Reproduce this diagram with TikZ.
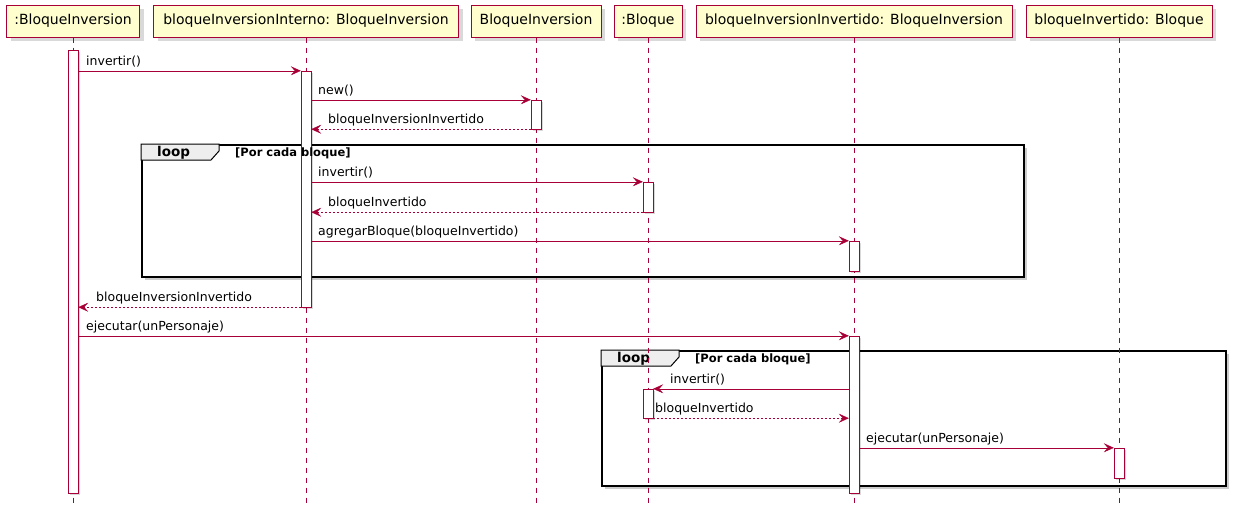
\documentclass[tikz,border=0pt]{standalone}
\usepackage{fontspec}
\setmainfont{DejaVu Sans}
\usepackage{tikz}
\usetikzlibrary{
    arrows.meta,
    shadows,
    positioning
}
\definecolor{umlred}{HTML}{A80036}
\definecolor{umlfill}{HTML}{FEFECE}
\definecolor{tabgray}{HTML}{EEEEEE}

\begin{document}
\begin{tikzpicture}[x=1pt, y=-1pt,
    part/.style={draw=umlred, fill=umlfill, line width=1pt, minimum height=32, inner sep=0,
        font=\fontsize{14}{16}\selectfont,
        drop shadow={shadow xshift=4pt, shadow yshift=-4pt, fill=black, opacity=.15}},
    life/.style={draw=umlred, dash pattern=on 5pt off 5pt},
    act/.style={draw=umlred, fill=white, minimum width=10, inner sep=0,
        drop shadow={shadow xshift=2pt, shadow yshift=-2pt, fill=black, opacity=.15}},
    frame/.style={draw=black, fill=white, line width=2pt, inner sep=0,
        drop shadow={shadow xshift=3pt, shadow yshift=-3pt, fill=black, opacity=.2}},
    tab/.style={draw=black, fill=tabgray, line width=1pt},
    msg/.style={draw=umlred, -{Stealth[length=10pt, width=9pt, inset=4pt]}},
    ret/.style={msg, dash pattern=on 2pt off 2pt},
    lbl/.style={anchor=base west, inner sep=0, font=\fontsize{12.5}{14}\selectfont},
    looplbl/.style={anchor=base west, inner sep=0, font=\bfseries\fontsize{13.5}{15}\selectfont},
    guard/.style={anchor=base west, inner sep=0, font=\bfseries\fontsize{11.5}{13}\selectfont}]
                        \useasboundingbox (0,0) rectangle (1237,509);

                        % participants
                        \node[part, minimum width=133] (p1) at (73,21) {:BloqueInversion};
                        \node[part, minimum width=305] (p2) at (306,21) {bloqueInversionInterno: BloqueInversion};
                        \node[part, minimum width=130] (p3) at (536,21) {BloqueInversion};
                        \node[part, minimum width=68] (p4) at (648,21) {:Bloque};
                        \node[part, minimum width=316] (p5) at (854,21) {bloqueInversionInvertido: BloqueInversion};
                        \node[part, minimum width=186] (p6) at (1119,21) {bloqueInvertido: Bloque};

                        % loop frames
                        \node[frame, minimum width=882, minimum height=132] (loop1) at (583,211) {};
                        \draw[tab] (loop1.north west) -- ++(78,0) -- ++(0,7) -- ++(-8,9) -- ++(-70,0) -- cycle;
                        \node[looplbl] (k1) at (157,156) {loop};

                        \node[frame, minimum width=624, minimum height=135] (loop2) at (914,418.5) {};
                        \draw[tab] (loop2.north west) -- ++(78,0) -- ++(0,7) -- ++(-8,9) -- ++(-70,0) -- cycle;
                        \node[looplbl] (k2) at (617,362) {loop};

                        % lifelines
                        \foreach \p in {p1,p2,p3,p4,p5,p6}
                            \draw[life] (\p.south) -- ++(0,466);

                        % activations
                        \node[act, minimum height=443] (a1) at (73,271.5) {};
                        \node[act, minimum height=236] (a2) at (306,189) {};
                        \node[act, minimum height=29] (a3) at (536,114.5) {};
                        \node[act, minimum height=30] (a4) at (648,197) {};
                        \node[act, minimum height=30] (a5) at (854,256) {};
                        \node[act, minimum height=157] (a6) at (854,414.5) {};
                        \node[act, minimum height=29] (a7) at (648,403.5) {};
                        \node[act, minimum height=30] (a8) at (1119,463) {};

                        \node[guard] (g1) at (235,156) {[Por cada bloque]};
                        \node[guard] (g2) at (695,362) {[Por cada bloque]};

                        % messages
                        \draw[msg] (a1.east |- a2.north) -- (a2.north west);
                        \draw[msg] (a2.east |- a3.north) -- (a3.north west);
                        \draw[ret] (a3.south west) -- (a2.east |- a3.south);
                        \draw[msg] (a2.east |- a4.north) -- (a4.north west);
                        \draw[ret] (a4.south west) -- (a2.east |- a4.south);
                        \draw[msg] (a2.east |- a5.north) -- (a5.north west);
                        \draw[ret] (a2.south west) -- (a1.east |- a2.south);
                        \draw[msg] (a1.east |- a6.north) -- (a6.north west);
                        \draw[msg] (a6.west |- a7.north) -- (a7.north east);
                        \draw[ret] (a7.south east) -- (a6.west |- a7.south);
                        \draw[msg] (a6.east |- a8.north) -- (a8.north west);

                        \node[lbl] (l1) at (86,65) {invertir()};
                        \node[lbl] (l2) at (318,94) {new()};
                        \node[lbl] (l3) at (328,123) {bloqueInversionInvertido};
                        \node[lbl] (l4) at (318,176) {invertir()};
                        \node[lbl] (l5) at (328,206) {bloqueInvertido};
                        \node[lbl] (l6) at (318,235) {agregarBloque(bloqueInvertido)};
                        \node[lbl] (l7) at (96,301) {bloqueInversionInvertido};
                        \node[lbl] (l8) at (86,330) {ejecutar(unPersonaje)};
                        \node[lbl] (l9) at (670,383) {invertir()};
                        \node[lbl] (l10) at (655,412) {bloqueInvertido};
                        \node[lbl] (l11) at (866,442) {ejecutar(unPersonaje)};
                    \end{tikzpicture}
\end{document}
